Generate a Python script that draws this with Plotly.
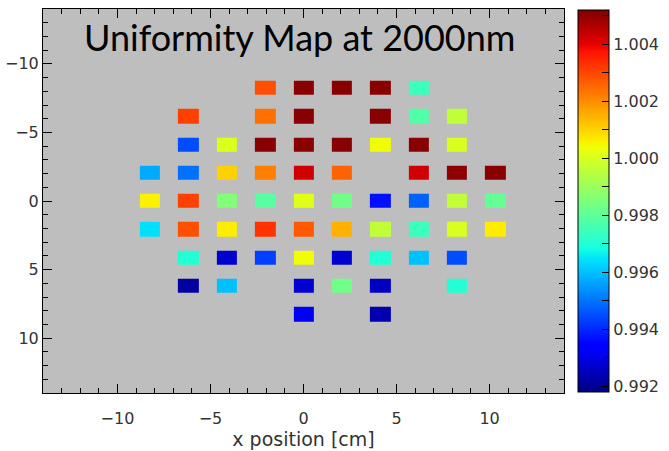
import numpy as np
import plotly.graph_objects as go

# Detector positions (cm) of the measured pads
x_pos = [-8.25, -6.19, -4.13, -2.06, 0.0, 2.06, 4.13, 6.19, 8.25, 10.31]
y_pos = [-8.25, -6.19, -4.13, -2.06, 0.0, 2.06, 4.13, 6.19, 8.25]

N = None
# Relative response per pad, one row per y position (top row first)
row_m8 = [N, N, N, 1.00287, 1.0051, 1.0051, 1.0051, 0.99743, N, N]
row_m6 = [N, 1.00309, N, 1.00240, 1.0051, N, 1.0051, 0.99778, 0.99961, N]
row_m4 = [N, 0.99448, 1.00007, 1.0051, 1.0051, 1.0051, 1.00040, 1.0051, 1.00000, N]
row_m2 = [0.99571, 0.99495, 1.00103, 1.00219, 1.00426, 1.00261, N, 1.00426, 1.00503, 1.0051]
row_0 = [1.00058, 1.00309, 0.99857, 0.99790, 1.00015, 0.99831, 0.99368, 0.99475, 0.99961, 0.99810]
row_p2 = [0.99642, 1.00287, 1.00063, 1.00327, 1.00272, 1.00150, 0.99961, 0.99743, 1.00000, 1.00063]
row_p4 = [N, 0.99703, 0.99274, 0.99431, 1.00040, 0.99274, 0.99703, 0.99602, 0.99448, N]
row_p6 = [N, 0.99218, 0.99602, N, 0.99274, 0.99831, 0.99254, N, 0.99703, N]
row_p8 = [N, N, N, N, 0.99314, N, 0.99236, N, N, N]

z = [row_m8, row_m6, row_m4, row_m2, row_0, row_p2, row_p4, row_p6, row_p8]

z_min, z_max = 0.9918, 1.0052
cbar_ticks = [0.992, 0.993, 0.994, 0.995, 0.996, 0.997, 0.998, 0.999,
              1.000, 1.001, 1.002, 1.003, 1.004, 1.005]
cbar_text = [f"{v:.3f}" if i % 2 == 0 else "" for i, v in enumerate(cbar_ticks)]

# Classic "jet" colour table built from its piecewise-linear channels
stops = [0, 0.11, 0.125, 0.34, 0.35, 0.375, 0.64, 0.65, 0.66, 0.89, 0.91, 1.0]
r = np.interp(stops, [0, 0.35, 0.66, 0.89, 1], [0, 0, 1, 1, 0.5])
g = np.interp(stops, [0, 0.125, 0.375, 0.64, 0.91, 1], [0, 0, 1, 1, 0, 0])
b = np.interp(stops, [0, 0.11, 0.34, 0.65, 1], [0.5, 1, 1, 0, 0])
jet = [[s, f"rgb({int(round(rr*255))},{int(round(gg*255))},{int(round(bb*255))})"]
       for s, rr, gg, bb in zip(stops, r, g, b)]

tick_font = dict(family="DejaVu Sans", size=16, color="#333333")

fig = go.Figure(go.Heatmap(
    x=x_pos, y=y_pos, z=z,
    zmin=z_min, zmax=z_max, colorscale=jet,
    xgap=18, ygap=14, hoverongaps=False,
    colorbar=dict(
        x=1.027, xanchor="left", y=0.5, yanchor="middle",
        len=0.995, lenmode="fraction", thickness=31, thicknessmode="pixels",
        outlinecolor="black", outlinewidth=1,
        ticks="inside", ticklen=7, tickcolor="black",
        tickvals=cbar_ticks, ticktext=cbar_text,
        tickfont=tick_font, xpad=0, ypad=0,
    ),
))

axis_common = dict(
    showgrid=False, zeroline=False, showline=True, linecolor="black", linewidth=1,
    mirror="ticks", ticks="inside", ticklen=9, tickcolor="black",
    tickvals=[-10, -5, 0, 5, 10], tickfont=tick_font,
    minor=dict(dtick=1, ticks="inside", ticklen=5, tickcolor="black"),
)

fig.update_xaxes(range=[-14, 14], ticklabelstandoff=11,
                 title=dict(text="x position [cm]",
                            font=dict(family="DejaVu Sans", size=19, color="#333333"),
                            standoff=0),
                 **axis_common)
fig.update_yaxes(range=[14, -14], **axis_common)

fig.add_annotation(
    text="Uniformity Map at 2000nm", xref="paper", yref="paper",
    x=0.493, y=0.928, xanchor="center", yanchor="middle", showarrow=False,
    font=dict(family="Lato", size=36, color="black"),
)

fig.update_layout(
    width=669, height=451,
    margin=dict(l=43, r=105, t=9, b=58, autoexpand=False),
    plot_bgcolor="#bebebe", paper_bgcolor="white",
)

fig.write_html("out.html")
